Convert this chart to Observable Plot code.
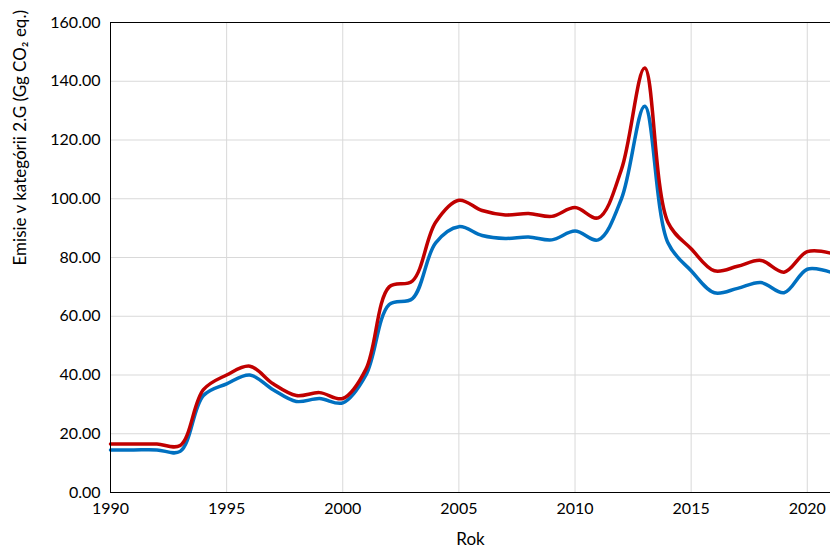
<!DOCTYPE html>
<html><head><meta charset="utf-8">
<script src="https://cdn.jsdelivr.net/npm/d3@7"></script>
<script src="https://cdn.jsdelivr.net/npm/@observablehq/plot@0.6"></script>
<style>body{margin:0;background:#fff}</style>
</head><body><div id="chart"></div>
<script>
const years = d3.range(1990, 2022);
const red = [16.5,16.5,16.5,16,35,40,43,37,33,34,32,42,70,72,92,99.5,96,94.5,95,94,97,93.5,110,144.5,92,83,75.5,77,79,75,82,81.5];
const blue = [14.5,14.5,14.5,14,33,37,40,35,31,32,30.5,40,64,66,85,90.5,87.5,86.5,87,86,89,86,100,131.5,85,75.5,68,69.5,71.5,68,76,75];
const yTicks = d3.range(0, 161, 20);
const xTicks = d3.range(1990, 2021, 5);

const rows = years.map((y, i) => ({year: y, red: red[i], blue: blue[i]}));

const plot = Plot.plot({
  width: 830, height: 553,
  marginLeft: 110, marginRight: 0, marginTop: 22, marginBottom: 61,
  style: {fontFamily: "Lato, sans-serif", fontSize: "16px", color: "#000"},
  x: {domain: [1990, 2021], label: null},
  y: {domain: [0, 160], label: null},
  marks: [
    Plot.gridX(xTicks, {stroke: "#d9d9d9", strokeOpacity: 1}),
    Plot.gridY(yTicks, {stroke: "#d9d9d9", strokeOpacity: 1}),
    Plot.axisX({ticks: xTicks, tickFormat: d => String(d), tickSize: 0, tickPadding: 10, fontSize: 16, label: null}),
    Plot.axisY({ticks: yTicks, tickFormat: d => d.toFixed(2), tickSize: 0, tickPadding: 10, fontSize: 16, label: null}),
    Plot.line(rows, {x: "year", y: "blue", stroke: "#0070c0", strokeWidth: 3.5, curve: "catmull-rom"}),
    Plot.line(rows, {x: "year", y: "red", stroke: "#c00000", strokeWidth: 3.5, curve: "catmull-rom"}),
    Plot.frame({stroke: "#000", strokeWidth: 1}),
    Plot.text(["Rok"], {frameAnchor: "bottom", dy: 52, fontSize: 17}),
    Plot.text(["Emisie v kategórii 2.G (Gg CO₂ eq.)"], {frameAnchor: "left", dx: -90, dy: 8, rotate: -90, fontSize: 17})
  ]
});
document.querySelector("#chart").append(plot);
</script>
</body></html>
